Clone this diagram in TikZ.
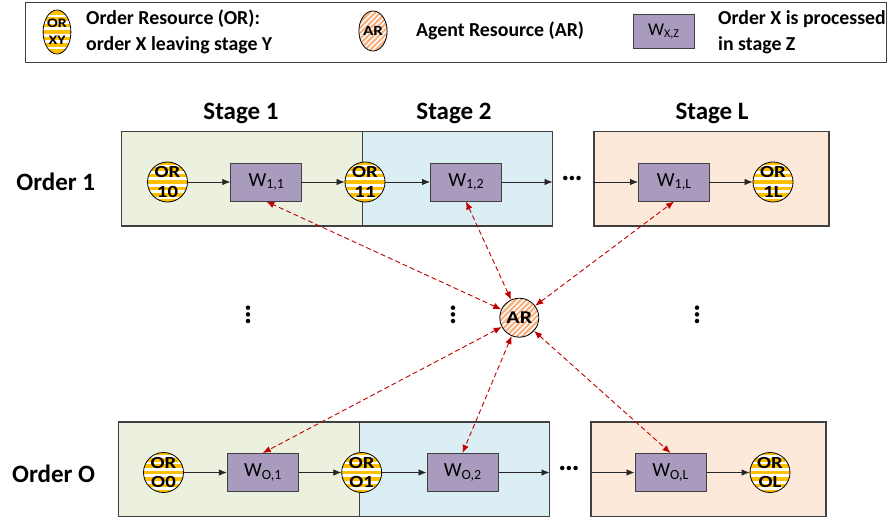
\documentclass[tikz,border=0pt]{standalone}
\usepackage{fontspec}
\setmainfont{Carlito}
\usetikzlibrary{arrows.meta,shapes.geometric}

\definecolor{stgA}{HTML}{EBF1DE}
\definecolor{stgB}{HTML}{DAEEF3}
\definecolor{stgC}{HTML}{FDE9D9}
\definecolor{wfill}{HTML}{A99BBD}
\definecolor{edge}{HTML}{404040}
\definecolor{orY}{HTML}{FFC000}
\definecolor{arO}{HTML}{F6AE7A}
\definecolor{linkred}{HTML}{C00000}

% subscript of a work box label
\newcommand\wsub[1]{\raisebox{-0.3ex}{\fontsize{14}{14}\selectfont #1}}
% wide lettering inside the resource circles
\newcommand\widetxt[1]{\scalebox{1.22}[1]{#1}}

\tikzset{
  stagebox/.style={draw=edge, line width=1.1pt, anchor=north west, inner sep=0, outer sep=0},
  wbox/.style={draw=edge, fill=wfill, line width=1pt, minimum width=71, minimum height=38,
    inner sep=0, font=\fontsize{20}{20}\selectfont},
  hstripes/.style={fill=white, path picture={
      \foreach \k in {-7,...,7}{
        \fill[orY] ([yshift=\k*6.4pt-1.8pt]path picture bounding box.west)
          rectangle ([yshift=\k*6.4pt+1.8pt]path picture bounding box.east);}}},
  dstripes/.style={fill=white, path picture={
      \foreach \k in {-12,...,12}{
        \draw[arO, line width=2pt] ([xshift=\k*5.4pt-30pt, yshift=-30pt]path picture bounding box.center)
          -- ++(60pt,60pt);}}},
  orres/.style={circle, draw=black, line width=0.8pt, minimum size=38, inner sep=0, align=center,
    hstripes, font=\bfseries\fontsize{17}{19.5}\selectfont},
  agres/.style={circle, draw=black, line width=0.8pt, minimum size=39, inner sep=0,
    dstripes, font=\bfseries\fontsize{18}{18}\selectfont},
  flow/.style={draw=black!85, line width=0.8pt, -{Latex[length=8pt,width=6.5pt]}},
  link/.style={draw=linkred, line width=0.9pt, dash pattern=on 5pt off 3pt,
    {Latex[length=8pt,width=6.5pt]}-{Latex[length=8pt,width=6.5pt]}},
  bigtxt/.style={font=\bfseries\fontsize{25}{25}\selectfont, inner sep=0},
  legtxt/.style={font=\bfseries\fontsize{19.8}{26}\selectfont, inner sep=0, align=left, anchor=west},
  hdots/.style={font=\bfseries\fontsize{30}{30}\selectfont, inner sep=0},
  vdots/.style={hdots, rotate=90}
}

\begin{document}
\begin{tikzpicture}[x=1pt,y=-1pt]
\useasboundingbox (0,0) rectangle (887,520);

% ---------- legend ----------
\node[draw=edge, line width=1.1pt, anchor=north west, minimum width=861, minimum height=60, inner sep=0] (legend) at (25,2) {};
\node[ellipse, draw=black, line width=0.8pt, minimum width=27, minimum height=44, inner sep=0, align=center,
      hstripes, font=\bfseries\fontsize{13}{17}\selectfont] (legOR) at (57,32) {\widetxt{OR}\\\widetxt{XY}};
\node[legtxt] (legORtxt) at (86,32) {Order Resource (OR):\\order X leaving stage Y};
\node[ellipse, draw=black, line width=0.8pt, minimum width=28, minimum height=40, inner sep=0,
      dstripes, font=\bfseries\fontsize{14}{14}\selectfont] (legAR) at (373,31) {\widetxt{AR}};
\node[legtxt] (legARtxt) at (416,31) {Agent Resource (AR)};
\node[wbox, minimum width=61, minimum height=34, font=\fontsize{18}{18}\selectfont] (legW) at (663.5,31.5) {W\raisebox{-0.3ex}{\fontsize{12}{12}\selectfont X,Z}};
\node[legtxt] (legWtxt) at (718,32) {Order X is processed\\in stage Z};

% ---------- stage headers and order labels ----------
\node[bigtxt, anchor=base] (hdr1) at (241,119) {Stage 1};
\node[bigtxt, anchor=base] (hdr2) at (454,119) {Stage 2};
\node[bigtxt, anchor=base] (hdrL) at (712,119) {Stage L};
\node[bigtxt, anchor=base] (ord1) at (55.7,190) {Order 1};
\node[bigtxt, anchor=base] (ordO) at (53.7,482) {Order O};

% ---------- stage boxes ----------
\node[stagebox, fill=stgA, minimum width=241, minimum height=94.5] (S11) at (121.5,131.5) {};
\node[stagebox, fill=stgB, minimum width=190, minimum height=94.5] (S12) at (362.5,131.5) {};
\node[stagebox, fill=stgC, minimum width=235, minimum height=94.5] (S1L) at (594,131.5) {};
\node[stagebox, fill=stgA, minimum width=241, minimum height=94.5] (SO1) at (118.5,422) {};
\node[stagebox, fill=stgB, minimum width=190, minimum height=94.5] (SO2) at (359.5,422) {};
\node[stagebox, fill=stgC, minimum width=235, minimum height=94.5] (SOL) at (591,422) {};

% ---------- order 1 ----------
\node[orres] (OR10) at (167.5,182) {\widetxt{OR}\\\widetxt{10}};
\node[wbox]  (W11)  at (266.3,182) {W\wsub{1,1}};
\node[orres] (OR11) at (365,182) {\widetxt{OR}\\\widetxt{11}};
\node[wbox]  (W12)  at (466,182) {W\wsub{1,2}};
\node[hdots] (d1)   at (572,178) {\dots};
\node[wbox]  (W1L)  at (674,182) {W\wsub{1,L}};
\node[orres] (OR1L) at (773,182) {\widetxt{OR}\\\widetxt{1L}};

\draw[flow] (OR10) -- (W11);
\draw[flow] (W11) -- (OR11);
\draw[flow] (OR11) -- (W12);
\draw[flow] (W12) -- (W12 -| S12.east);
\draw[flow] (W1L -| S1L.west) -- (W1L);
\draw[flow] (W1L) -- (OR1L);

% ---------- order O ----------
\node[orres] (ORO0) at (163.5,472.5) {\widetxt{OR}\\\widetxt{O0}};
\node[wbox]  (WO1)  at (262.8,472.5) {W\wsub{O,1}};
\node[orres] (ORO1) at (361.7,472.5) {\widetxt{OR}\\\widetxt{O1}};
\node[wbox]  (WO2)  at (462.5,472.5) {W\wsub{O,2}};
\node[hdots] (dO)   at (569,468.5) {\dots};
\node[wbox]  (WOL)  at (670.5,472.5) {W\wsub{O,L}};
\node[orres] (OROL) at (770,472.5) {\widetxt{OR}\\\widetxt{OL}};

\draw[flow] (ORO0) -- (WO1);
\draw[flow] (WO1) -- (ORO1);
\draw[flow] (ORO1) -- (WO2);
\draw[flow] (WO2) -- (WO2 -| SO2.east);
\draw[flow] (WOL -| SOL.west) -- (WOL);
\draw[flow] (WOL) -- (OROL);

% ---------- vertical ellipses ----------
\node[vdots] (v1) at (248.5,315) {\dots};
\node[vdots] (v2) at (453.5,315) {\dots};
\node[vdots] (v3) at (697,315) {\dots};

% ---------- agent resource ----------
\node[agres] (AR) at (519.3,317.7) {\widetxt{AR}};
\draw[link] (AR) -- (W11.south);
\draw[link] (AR) -- (W12.south);
\draw[link] (AR) -- (W1L.south);
\draw[link] (AR) -- (WO1.north);
\draw[link] (AR) -- (WO2.north);
\draw[link] (AR) -- (WOL.north);
\end{tikzpicture}
\end{document}
